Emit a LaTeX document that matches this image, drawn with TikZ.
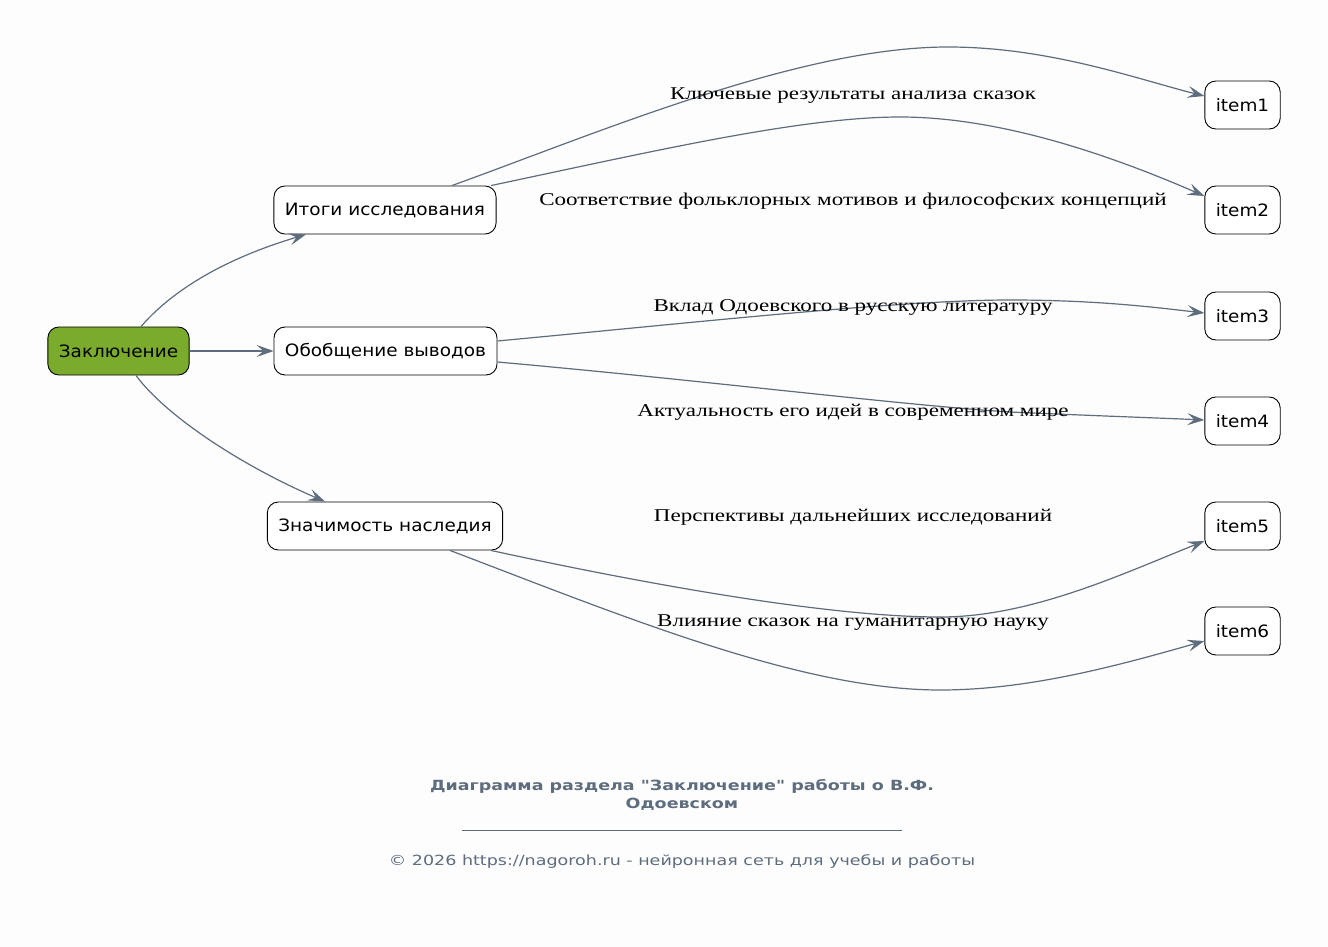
\documentclass[tikz,border=0pt]{standalone}
\usepackage{fontspec}
\setmainfont{Liberation Serif}
\newfontfamily\nodefont[FakeStretch=1.085]{DejaVu Sans}
\newfontfamily\labelfont[FakeStretch=1.28]{Liberation Serif}
\newfontfamily\footfont[FakeStretch=1.25]{DejaVu Sans}
\usetikzlibrary{arrows.meta}
\definecolor{edgec}{HTML}{5D6D7E}
\definecolor{rootc}{HTML}{7AAB2C}
\definecolor{bgc}{HTML}{FDFDFD}
\tikzset{
  box/.style={draw=black, line width=0.9pt, rounded corners=11pt, fill=white,
    minimum height=48pt, inner xsep=11pt, font=\nodefont\fontsize{17}{20}\selectfont},
  rootbox/.style={box, fill=rootc},
  conn/.style={draw=edgec, line width=1.2pt, -{Stealth[length=17pt,width=12pt,inset=7pt]}},
  elabel/.style={font=\labelfont\fontsize{18}{21}\selectfont, inner sep=0pt},
}
\begin{document}
\begin{tikzpicture}[x=1pt,y=-1pt]
\path[fill=bgc] (0,0) rectangle (1328,947);
\useasboundingbox (0,0) rectangle (1328,947);

\node[rootbox] (root) at (118.5,351) {Заключение};
\node[box] (it) at (385,210) {Итоги исследования};
\node[box] (ob) at (385.5,351) {Обобщение выводов};
\node[box] (zn) at (385,526) {Значимость наследия};
\node[box] (i1) at (1242.5,105) {item1};
\node[box] (i2) at (1242.5,210) {item2};
\node[box] (i3) at (1242.5,316) {item3};
\node[box] (i4) at (1242.5,421) {item4};
\node[box] (i5) at (1242.5,526) {item5};
\node[box] (i6) at (1242.5,631) {item6};

\draw[conn] ([xshift=22.5pt]root.north) .. controls (170,293) and (220,260) .. ([xshift=-79pt]it.south);
\draw[conn] (root.east) -- (ob.west);
\draw[conn] ([xshift=17.5pt]root.south) .. controls (165,415) and (240,465) .. ([xshift=-60pt]zn.north);

\draw[conn] ([xshift=67pt]it.north) .. controls (600,132) and (800,47) .. (948,47) .. controls (1050,47) and (1140,80) .. ([yshift=9pt]i1.west);
\draw[conn] ([xshift=106pt]it.north) .. controls (650,152) and (800,117) .. (900,117) .. controls (1000,117) and (1110,155) .. ([yshift=14pt]i2.west);
\draw[conn] ([yshift=10pt]ob.east) .. controls (700,322) and (900,300) .. (1010,300) .. controls (1100,300) and (1160,308) .. ([yshift=3pt]i3.west);
\draw[conn] ([yshift=-11pt]ob.east) .. controls (700,380) and (900,405) .. (1010,412) .. controls (1100,416) and (1160,418) .. ([yshift=1pt]i4.west);
\draw[conn] ([xshift=106pt]zn.south) .. controls (650,585) and (830,617) .. (940,617) .. controls (1030,617) and (1120,575) .. ([yshift=-15pt]i5.west);
\draw[conn] ([xshift=65pt]zn.south) .. controls (620,615) and (800,690) .. (940,690) .. controls (1030,690) and (1120,665) .. ([yshift=-10pt]i6.west);

\node[elabel] (l1) at (853,96) {Ключевые результаты анализа сказок};
\node[elabel] (l2) at (853,201) {Соответствие фольклорных мотивов и философских концепций};
\node[elabel] (l3) at (853,307) {Вклад Одоевского в русскую литературу};
\node[elabel] (l4) at (853,412) {Актуальность его идей в современном мире};
\node[elabel] (l5) at (853,517) {Перспективы дальнейших исследований};
\node[elabel] (l6) at (853,623) {Влияние сказок на гуманитарную науку};

\node[font=\footfont\bfseries\fontsize{14}{18}\selectfont, text=edgec, align=center] (title) at (682,795) {Диаграмма раздела "Заключение" работы о В.Ф.\\Одоевском};
\coordinate (la) at (462,830);
\coordinate (lb) at (902,830);
\draw[edgec, line width=0.6pt] (la) -- (lb);
\node[font=\footfont\fontsize{14}{18}\selectfont, text=edgec] (copy) at (682,862) {© 2026 https://nagoroh.ru - нейронная сеть для учебы и работы};
\end{tikzpicture}
\end{document}
